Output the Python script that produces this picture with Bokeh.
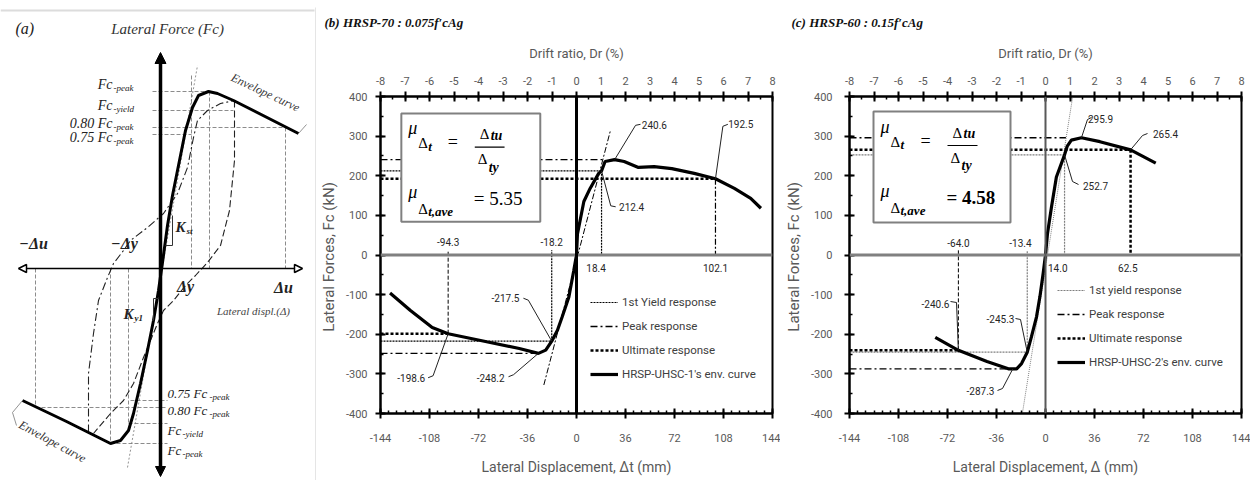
from bokeh.plotting import figure
from bokeh.models import (Range1d, LinearAxis, FixedTicker, Span, Legend, LegendItem,
                          Arrow, NormalHead)
from bokeh.layouts import row
from bokeh.embed import file_html
from bokeh.resources import INLINE
from bokeh.core.properties import value

SANS = "Roboto"
SERIF = "Liberation Serif"

# ------------------------------------------------------------------ data
disp_ticks = [-144, -108, -72, -36, 0, 36, 72, 108, 144]
force_ticks = [-400, -300, -200, -100, 0, 100, 200, 300, 400]
drift_ticks = list(range(-8, 9))

# panel (b) HRSP-UHSC-1 envelope
b_pos_disp = [0, 0.7, 5.4, 10, 16.3, 18.4, 21, 28, 35, 45.5, 57, 70, 86.5, 102.1, 116, 128, 135.5]
b_pos_force = [0, 53, 135, 168, 206, 212.4, 236, 240.6, 236, 221, 223, 218, 206, 192.5, 168, 143, 118]
b_neg_disp = [0, -2, -5.6, -10.5, -14, -18.2, -22.6, -28, -42, -66, -94.3, -106, -122, -137]
b_neg_force = [0, -39, -106, -156, -190, -217.5, -240, -248.2, -236, -219, -198.6, -183, -140, -96]
b_yield = [(18.4, 212.4), (-18.2, -217.5)]
b_peak = [(28, 240.6), (-28, -248.2)]
b_peak_line_to = [19, -28]
b_ult = [(102.1, 192.5), (-94.3, -198.6)]
b_stiff_disp = [-24, 25]
b_stiff_force = [-328, 315]
b_ductility = "5.35"

# panel (c) HRSP-UHSC-2 envelope
c_pos_disp = [0, 1.5, 4.4, 8, 14, 16, 19, 26.4, 40, 62.5, 81]
c_pos_force = [0, 55, 121, 197, 252.7, 275, 290, 295.9, 286, 265.4, 232]
c_neg_disp = [0, -1.7, -4.1, -6.6, -10.3, -13.4, -17.6, -21.2, -27.3, -43, -64, -81]
c_neg_force = [0, -46, -105, -156, -206, -245.3, -274, -287.3, -287.3, -269, -240.6, -208]
c_yield = [(14.0, 252.7), (-13.4, -245.3)]
c_peak = [(26.4, 295.9), (-24, -287.3)]
c_peak_line_to = [15, -27]
c_ult = [(62.5, 265.4), (-64.0, -240.6)]
c_stiff_disp = [-17, 20]
c_stiff_force = [-400, 400]
c_ductility = "4.58"

# panel (a) schematic (drawing units = page pixels)
a_env_x = [22, 66, 110, 120, 128, 133, 140, 147, 153, 158, 162, 167, 172, 177, 185, 192, 198, 208, 217, 233, 298]
a_env_y = [400, 421, 443, 440, 430, 413, 383, 350, 320, 290, 262, 225, 195, 170, 130, 107, 95, 91, 93, 100, 133]
a_loop1_x = [234, 234, 229, 220, 207, 195, 185, 173, 163, 157, 150, 143, 133, 123, 110, 93]
a_loop1_y = [100, 160, 210, 245, 262, 275, 285, 300, 310, 323, 340, 357, 383, 400, 413, 433]
a_loop2_x = [88, 88, 93, 98, 107, 113, 123, 130, 147, 163, 177, 187, 193, 197, 207, 220, 234]
a_loop2_y = [432, 373, 333, 300, 277, 263, 250, 240, 227, 213, 193, 167, 137, 120, 110, 103, 100]
a_guides_x = [[152, 209], [152, 233], [152, 285], [152, 191], [130, 167], [35, 167], [128, 167], [110, 167],
              [191, 191], [209, 209], [285, 285], [35, 35], [110, 110], [128, 128]]
a_guides_y = [[91, 91], [110, 110], [127, 127], [134, 134], [400, 400], [407, 407], [423, 423], [443, 443],
              [75, 268], [91, 268], [127, 268], [268, 407], [268, 443], [268, 423]]
a_stiff_x = [127, 197]
a_stiff_y = [467, 65]

PAGE_H = 480
A_W = 316


# ------------------------------------------------------------------ panel (a)
def build_a():
    p = figure(width=A_W, height=PAGE_H, x_range=Range1d(0, A_W), y_range=Range1d(PAGE_H, 0),
               x_axis_type=None, y_axis_type=None, toolbar_location=None, output_backend="svg",
               min_border=0, outline_line_color=None)
    p.frame_align = False
    p.line([0, 314], [10, 10], line_color="#dcdcdc", line_width=2)
    p.line([315.5, 315.5], [7, 480], line_color="#dcdcdc", line_width=1.5)
    p.multi_line(a_guides_x, a_guides_y, line_color="#8c8c8c", line_width=1, line_dash="4 2")
    p.line(a_stiff_x, a_stiff_y, line_color="#777777", line_width=0.8, line_dash="2 2")
    p.line(a_loop1_x, a_loop1_y, line_color="#222222", line_width=1.1, line_dash="7 3")
    p.line(a_loop2_x, a_loop2_y, line_color="#222222", line_width=1.1, line_dash="8 3 2 3")
    p.line(a_env_x, a_env_y, line_color="black", line_width=3)
    p.line([165, 172, 172], [245, 245, 215], line_color="#333333", line_width=1)
    p.line([153, 153, 160], [320, 298, 298], line_color="#333333", line_width=1)
    p.add_layout(Arrow(start=NormalHead(size=10, fill_color="black", line_color="black"),
                       end=NormalHead(size=11, fill_color="black", line_color="black"),
                       x_start=160, y_start=476, x_end=160, y_end=52, line_width=3.5))
    p.add_layout(Arrow(start=NormalHead(size=8, fill_color="white", line_color="black", line_width=1.5),
                       end=NormalHead(size=8, fill_color="white", line_color="black", line_width=1.5),
                       x_start=18, y_start=268, x_end=302, y_end=268, line_width=1.6))

    def txt(t, x, y, size, style="italic", align="left", color="#222222", angle=0.0, font=SERIF):
        p.text(x=[x], y=[y], text=[t], angle=angle, text_font=value(font),
               text_font_size=value(f"{size}px"), text_font_style=style, text_align=align,
               text_baseline="middle", text_color=color)

    txt("(a)", 15, 28, 16)
    txt("Lateral Force (Fc)", 167, 28, 15, align="center", color="#333333")
    for main, suf, yy in [("Fc", "-peak", 84), ("Fc", "-yield", 105), ("0.80 Fc", "-peak", 123), ("0.75 Fc", "-peak", 137)]:
        txt(main, 112, yy, 14, align="right")
        txt(suf, 113, yy + 3, 9)
    for main, suf, xx, yy in [("0.75 Fc", "-peak", 209, 393), ("0.80 Fc", "-peak", 209, 410),
                              ("Fc", "-yield", 182, 430), ("Fc", "-peak", 182, 450)]:
        txt(main, 167, yy, 13)
        txt(suf, xx, yy + 3, 9)
    txt("\u2212\u0394u", 33, 243, 16, style="bold italic", align="center")
    txt("\u2212\u0394y", 124, 243, 16, style="bold italic", align="center")
    txt("\u0394y", 185, 286, 16, style="bold italic", align="center")
    txt("\u0394u", 283, 287, 16, style="bold italic", align="center")
    txt("Lateral displ.(\u0394)", 253, 310, 11, color="#444444", align="center")
    txt("K", 175, 226, 15, style="bold italic")
    txt("st", 186, 230, 9, style="bold italic")
    txt("K", 123, 313, 15, style="bold italic")
    txt("y1", 134, 317, 9, style="bold italic")
    txt("Envelope curve", 265, 92, 12, align="center", color="#333333", angle=-0.44)
    txt("Envelope curve", 52, 441, 12, align="center", color="#333333", angle=-0.5)
    p.line([298, 306], [133, 124], line_color="#777777", line_width=0.8)
    p.line([22, 12, 16], [400, 412, 425], line_color="#777777", line_width=0.8)
    return p


# ------------------------------------------------------------------ panels (b), (c)
def style_axis(ax, label, label_size="14px"):
    ax.axis_label = label
    ax.axis_label_text_font = SANS
    ax.axis_label_text_font_size = label_size
    ax.axis_label_text_font_style = "normal"
    ax.axis_label_text_color = "#595959"
    ax.major_label_text_font = SANS
    ax.major_label_text_font_size = "11px"
    ax.major_label_text_color = "#595959"
    ax.axis_line_color = "black"
    ax.axis_line_width = 2
    ax.major_tick_line_color = "black"
    ax.major_tick_line_width = 2
    ax.minor_tick_line_color = "black"
    ax.minor_tick_line_width = 1.5
    ax.major_tick_in = 5
    ax.major_tick_out = 5
    ax.minor_tick_in = 3
    ax.minor_tick_out = 0


def build_panel(P):
    FL, FW, FT, FH = P["frame"]
    fig_left, fig_w = P["fig"]
    p = figure(width=fig_w, height=PAGE_H, x_range=Range1d(-144, 144), y_range=Range1d(-400, 400),
               x_axis_type=None, y_axis_type=None, toolbar_location=None, output_backend="svg",
               min_border_left=FL - fig_left, min_border_right=fig_left + fig_w - (FL + FW),
               min_border_top=FT, min_border_bottom=PAGE_H - FT - FH,
               outline_line_color="black", outline_line_width=2, title=P["title"])
    p.frame_align = False
    p.title.text_font = SERIF
    p.title.text_font_style = "bold italic"
    p.title.text_font_size = "13px"
    p.title.text_color = "#111111"
    p.title.align = "left"
    p.title.offset = P["title_offset"]
    p.title.standoff = 25
    p.extra_x_ranges = {"dr": Range1d(-8, 8)}

    def X(px):
        return -144 + (px - FL) / FW * 288

    def Y(py):
        return 400 - (py - FT) / FH * 800

    xb = LinearAxis(ticker=FixedTicker(ticks=disp_ticks, minor_ticks=list(range(-144, 145, 6))))
    style_axis(xb, P["xlabel"])
    xb.major_label_overrides = {t: str(t) for t in disp_ticks}
    xb.major_label_standoff = 15
    xb.axis_label_standoff = 14
    p.add_layout(xb, "below")

    yl = LinearAxis(ticker=FixedTicker(ticks=force_ticks, minor_ticks=list(range(-400, 401, 50))))
    style_axis(yl, "Lateral Forces, Fc  (kN)", "15px")
    yl.major_label_overrides = {t: str(t) for t in force_ticks}
    yl.major_label_standoff = P["ylab_standoff"]
    yl.axis_label_standoff = 5
    p.add_layout(yl, "left")

    xt = LinearAxis(x_range_name="dr", ticker=FixedTicker(ticks=drift_ticks, minor_ticks=[k / 2 for k in range(-16, 17)]))
    style_axis(xt, "Drift ratio, Dr (%)", "13px")
    xt.major_label_overrides = {t: str(t) for t in drift_ticks}
    xt.major_label_standoff = 7
    xt.axis_label_standoff = 13
    p.add_layout(xt, "above")

    p.add_layout(Span(location=0, dimension="width", line_color="#808080", line_width=3))
    p.add_layout(Span(location=0, dimension="height", line_color=P["zero_v_color"], line_width=P["zero_v_width"]))

    (yp, fyp), (yn, fyn) = P["yld"]
    (pp, fpp), (pn, fpn) = P["peak"]
    (up, fup), (un, fun) = P["ult"]
    stub = 12

    r_yield = p.multi_line([[-144, yp], [yp, yp], [-144, yn], [yn, yn]],
                           [[fyp, fyp], [fyp, 0], [fyn, fyn], [fyn, stub]],
                           line_color=P["yield_color"], line_width=1.2, line_dash="2 1")
    r_peak = p.multi_line([[-144, P["peak_to"][0]], [-144, P["peak_to"][1]]], [[fpp, fpp], [fpn, fpn]],
                          line_color="black", line_width=1.3, line_dash="7 3 2 3")
    p.line(P["stiff"][0], P["stiff"][1], line_color=P["stiff_color"], line_width=1, line_dash=P["stiff_dash"])
    r_ult = p.multi_line([[-144, up], [-144, un]], [[fup, fup], [fun, fun]],
                         line_color="black", line_width=2.5, line_dash="3 2")
    p.line([up, up], [fup, 0], line_color="black", line_width=P["ult_v_width"], line_dash=P["ult_v_dash"])
    p.line([un, un], [fun, stub], line_color="black", line_width=1, line_dash="4 2")
    env_x = list(reversed(P["neg"][0])) + P["pos"][0][1:]
    env_y = list(reversed(P["neg"][1])) + P["pos"][1][1:]
    r_env = p.line(env_x, env_y, line_color="black", line_width=3.2)

    # text box
    bl, bt, br, bb = P["box"]
    p.quad(left=[X(bl)], right=[X(br)], top=[Y(bt)], bottom=[Y(bb)], fill_color="white",
           line_color="#808080", line_width=2)

    def t(s, px, py, size, style="italic", align="left", font=SERIF, color="black"):
        p.text(x=[X(px)], y=[Y(py)], text=[s], text_font=value(font), text_font_size=value(f"{size}px"),
               text_font_style=style, text_align=align, text_baseline="middle", text_color=color)

    t("\u03bc", bl + 7, bt + 15, 18)
    t("\u0394", bl + 17, bt + 30, 15, style="normal")
    t("t", bl + 27, bt + 33, 13, style="bold italic")
    t("=", bl + 52, bt + 29, 18, style="normal", align="center")
    t("\u0394", bl + 79, bt + 21, 15, style="normal")
    t("tu", bl + 90, bt + 22, 14, style="bold italic")
    p.line([X(bl + 74), X(bl + 104)], [Y(bt + 34), Y(bt + 34)], line_color="black", line_width=1.2)
    t("\u0394", bl + 77, bt + 46, 15, style="normal")
    t("ty", bl + 88, bt + 54, 14, style="bold italic")
    t("\u03bc", bl + 7, bt + 79, 18)
    t("\u0394", bl + 17, bt + 96, 15, style="normal")
    t("t,ave", bl + 27, bt + 99, 13, style="bold italic")
    t("= " + P["duct"], bl + 73, bt + 86, 19, style=P["duct_style"])

    # value annotations with leaders
    lab_x, lab_y, lab_t = [], [], []
    lead_x, lead_y = [], []
    for s, (ax_, ay_), (lx, ly), pts in P["callouts"]:
        lab_x.append(X(lx)); lab_y.append(Y(ly)); lab_t.append(s)
        lead_x.append([X(q[0]) for q in pts] + [ax_])
        lead_y.append([Y(q[1]) for q in pts] + [ay_])
    for s, vx, py in P["axis_values"]:
        lab_x.append(vx); lab_y.append(Y(py)); lab_t.append(s)
    p.multi_line(lead_x, lead_y, line_color="#222222", line_width=1)
    p.text(x=lab_x, y=lab_y, text=lab_t, text_font=value(SANS), text_font_size=value("10px"),
           text_align="center", text_baseline="middle", text_color="#262626")

    lg = Legend(items=[LegendItem(label=P["legend"][0], renderers=[r_yield]),
                       LegendItem(label=P["legend"][1], renderers=[r_peak]),
                       LegendItem(label=P["legend"][2], renderers=[r_ult]),
                       LegendItem(label=P["legend"][3], renderers=[r_env])],
                location=P["legend_loc"], border_line_color=None, background_fill_alpha=0,
                padding=0, margin=0, spacing=4, glyph_width=28, glyph_height=20, label_height=20,
                label_standoff=4, label_text_font=SANS, label_text_font_size="11.5px",
                label_text_color="#404040")
    p.add_layout(lg)
    return p


PB = dict(fig=(A_W, 780 - A_W), frame=(377, 395, 94, 319), xlabel="Lateral Displacement, \u0394t (mm)",
          title="(b) HRSP-70 : 0.075f\u2032cAg", title_offset=-56, ylab_standoff=8,
          pos=(b_pos_disp, b_pos_force), neg=(b_neg_disp, b_neg_force),
          yld=b_yield, peak=b_peak, peak_to=b_peak_line_to, ult=b_ult,
          stiff=(b_stiff_disp, b_stiff_force), stiff_color="black", stiff_dash="6 2 2 2",
          yield_color="black", ult_v_width=1.2, ult_v_dash="6 2 2 2",
          zero_v_color="black", zero_v_width=3,
          box=(398, 111, 538, 220), duct=b_ductility, duct_style="normal",
          callouts=[("240.6", b_peak[0], (653, 123), [(639, 122), (634, 123)]),
                    ("192.5", b_ult[0], (740, 122), [(727, 122), (722, 124)]),
                    ("212.4", b_yield[0], (630, 205), [(614, 205), (609, 204)]),
                    ("-217.5", b_yield[1], (503, 297), [(521, 297), (526, 299)]),
                    ("-198.6", b_ult[1], (408, 377), [(425, 377), (430, 375)]),
                    ("-248.2", b_peak[1], (488, 377), [(506, 376), (511, 374)])],
          axis_values=[("18.4", b_yield[0][0] - 4, 267), ("102.1", b_ult[0][0], 267),
                       ("-94.3", b_ult[1][0], 240), ("-18.2", b_yield[1][0], 240)],
          legend=["1st Yield response", "Peak response", "Ultimate response", "HRSP-UHSC-1's env. curve"],
          legend_loc=(210, 29))

PC = dict(fig=(780, 470), frame=(849, 392, 96, 317), xlabel="Lateral Displacement, \u0394 (mm)",
          title="(c) HRSP-60 : 0.15f\u2032cAg", title_offset=-58, ylab_standoff=12,
          pos=(c_pos_disp, c_pos_force), neg=(c_neg_disp, c_neg_force),
          yld=c_yield, peak=c_peak, peak_to=c_peak_line_to, ult=c_ult,
          stiff=(c_stiff_disp, c_stiff_force), stiff_color="#808080", stiff_dash="1 1",
          yield_color="#7f7f7f", ult_v_width=2.5, ult_v_dash="3 2",
          zero_v_color="#595959", zero_v_width=2,
          box=(873, 111, 1010, 222), duct=c_ductility, duct_style="bold",
          callouts=[("295.9", c_peak[0], (1100, 118), [(1091, 117), (1087, 119)]),
                    ("265.4", c_ult[0], (1165, 133), [(1147, 133), (1142, 135)]),
                    ("252.7", c_yield[0], (1095, 185), [(1078, 184), (1072, 181)]),
                    ("-240.6", c_ult[1], (935, 303), [(950, 301), (956, 302)]),
                    ("-245.3", c_yield[1], (1000, 318), [(1015, 318), (1020, 319)]),
                    ("-287.3", c_peak[1], (980, 390), [(997, 390), (1002, 388)])],
          axis_values=[("14.0", c_yield[0][0] - 5, 267), ("62.5", c_ult[0][0] - 2, 267),
                       ("-64.0", c_ult[1][0], 242), ("-13.4", c_yield[1][0] - 5, 242)],
          legend=["1st yield response", "Peak response", "Ultimate response", "HRSP-UHSC-2's env. curve"],
          legend_loc=(208, 41))

pa = build_a()
pb = build_panel(PB)
pc = build_panel(PC)
layout = row(pa, pb, pc)
open("out.html", "w").write(file_html(layout, INLINE))
